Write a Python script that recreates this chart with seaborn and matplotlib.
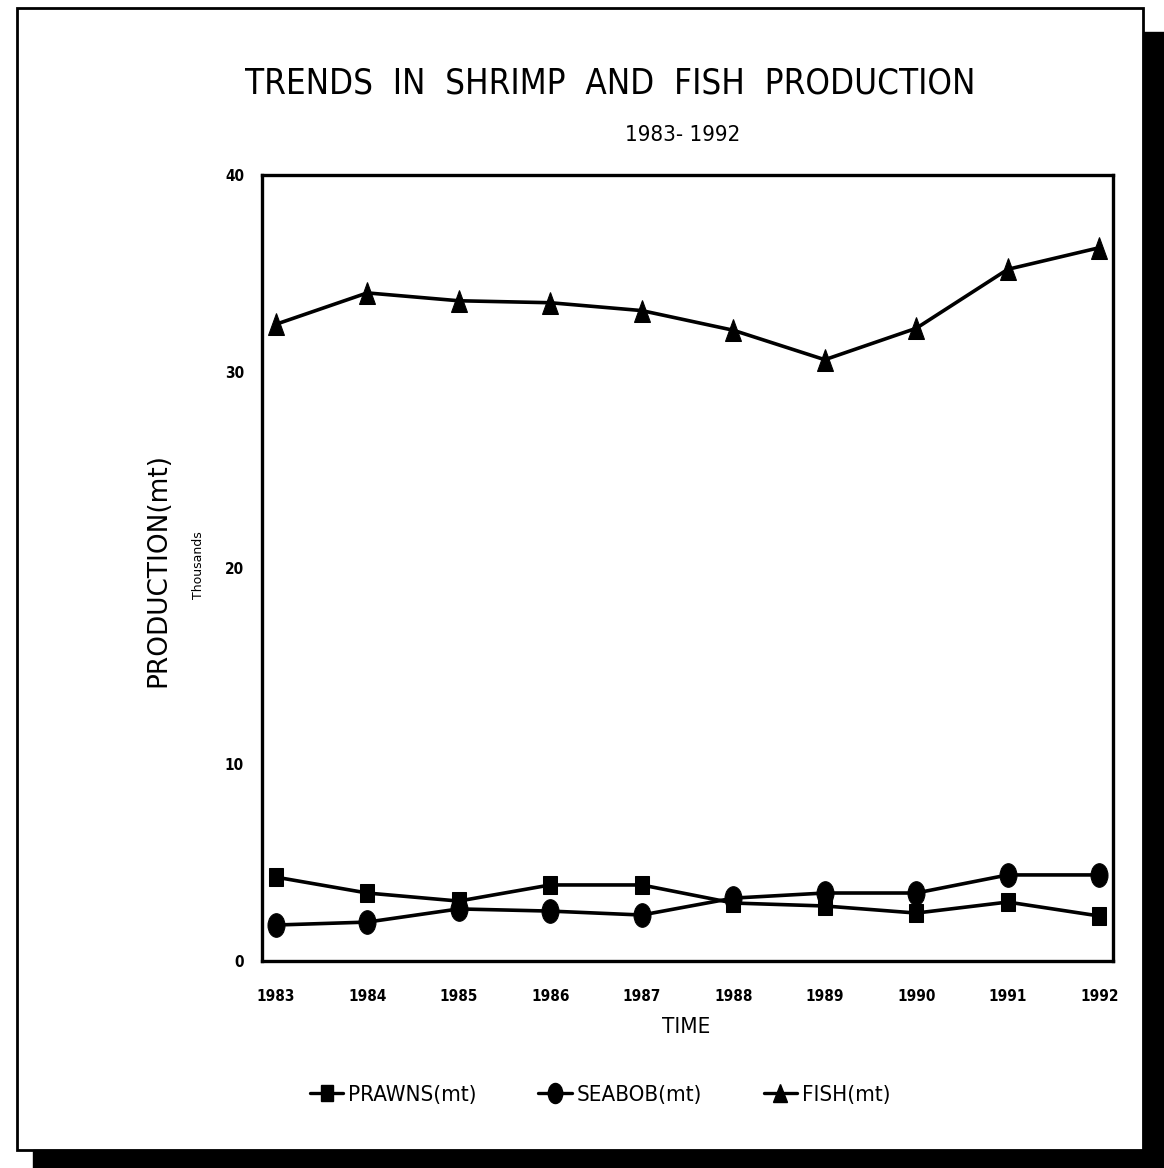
import matplotlib
matplotlib.use("Agg")
import matplotlib.pyplot as plt
from matplotlib.markers import MarkerStyle
from matplotlib.transforms import Affine2D
from matplotlib.patches import Rectangle
import seaborn as sns
import pandas as pd

years = [1983, 1984, 1985, 1986, 1987, 1988, 1989, 1990, 1991, 1992]
prawns = [4.27, 3.46, 3.05, 3.87, 3.87, 2.95, 2.80, 2.44, 3.00, 2.29]
seabob = [1.83, 1.98, 2.65, 2.54, 2.34, 3.20, 3.46, 3.46, 4.38, 4.38]
fish = [32.4, 34.0, 33.6, 33.5, 33.1, 32.1, 30.6, 32.2, 35.2, 36.3]
series_names = ["PRAWNS(mt)", "SEABOB(mt)", "FISH(mt)"]
y_ticks = [0, 10, 20, 30, 40]

sns.set_style("white")
plt.rcParams["font.family"] = ["DejaVu Sans"]
plt.rcParams["font.stretch"] = "condensed"
plt.rcParams["text.color"] = "black"

fig = plt.figure(figsize=(11.64, 11.68), dpi=100)
W, H = 1164, 1168
ax = fig.add_axes([262 / W, 1 - 961 / H, (1113 - 262) / W, (961 - 175) / H])

df = pd.DataFrame({"x": list(range(len(years))) * 3,
                   "val": prawns + seabob + fish,
                   "series": [series_names[0]] * 10 + [series_names[1]] * 10 + [series_names[2]] * 10})

ell = MarkerStyle("o", transform=Affine2D().scale(0.72, 1.0))
sq = MarkerStyle("s", transform=Affine2D().scale(0.8, 1.1))
tri = MarkerStyle("^", transform=Affine2D().scale(0.85, 1.2))
markers = {series_names[0]: sq, series_names[1]: ell, series_names[2]: tri}
sizes = {series_names[0]: 12, series_names[1]: 17, series_names[2]: 13}

handles = []
for name in series_names:
    sub = df[df["series"] == name]
    sns.lineplot(data=sub, x="x", y="val", ax=ax, color="black", lw=2.6,
                 marker=markers[name], markersize=sizes[name],
                 markeredgecolor="black", markerfacecolor="black", legend=False)
    h, = ax.plot([], [], color="black", lw=2.4, marker=markers[name],
                 markersize=sizes[name] * 0.85, label=name)
    handles.append(h)

ax.set_xlim(-0.15, len(years) - 1 + 0.15)
ax.set_ylim(0, 40)
ax.set_xticks(range(len(years)))
ax.set_xticklabels([str(y) for y in years], fontsize=11, fontweight="bold")
ax.set_yticks(y_ticks)
ax.set_yticklabels([str(v) for v in y_ticks], fontsize=11, fontweight="bold")
ax.tick_params(axis="x", direction="in", length=10, width=1.2, pad=20, colors="black")
ax.tick_params(axis="y", direction="out", length=5, width=1.5, pad=8, colors="black")
for s in ax.spines.values():
    s.set_color("black")
    s.set_linewidth(2.4)
ax.set_xlabel("")
ax.set_ylabel("")

fig.text(610 / W, 1 - 83 / H, "TRENDS  IN  SHRIMP  AND  FISH  PRODUCTION",
         ha="center", va="center", fontsize=25, fontweight="light")
fig.text(683 / W, 1 - 135 / H, "1983- 1992", ha="center", va="center", fontsize=16)
fig.text(686 / W, 1 - 1027 / H, "TIME", ha="center", va="center", fontsize=16)
fig.text(158 / W, 1 - 570 / H, "PRODUCTION(mt)", rotation=90, ha="center",
         va="center", fontsize=19, fontstretch="normal", fontweight="normal")
fig.text(199 / W, 1 - 565 / H, "Thousands", rotation=90, ha="center", va="center",
         fontsize=9, fontstretch="normal")

fig.legend(handles=handles, labels=series_names, loc="center",
           bbox_to_anchor=(600 / W, 1 - 1095 / H), ncol=3, frameon=False,
           fontsize=16, handlelength=1.5, handletextpad=0.2, columnspacing=2.8)

# page frame with drop shadow
fig.patches.append(Rectangle((33 / W, 0), (W - 33) / W, (1168 - 1150) / H,
                             transform=fig.transFigure, color="black", zorder=0))
fig.patches.append(Rectangle((1143 / W, 0), (W - 1143) / W, (1168 - 32) / H,
                             transform=fig.transFigure, color="black", zorder=0))
fig.patches.append(Rectangle((17 / W, 1 - 1150 / H), (1143 - 17) / W, (1150 - 8) / H,
                             transform=fig.transFigure, fill=False, ec="black", lw=2.0, zorder=1))

fig.savefig("out.png", dpi=100, facecolor="white")
